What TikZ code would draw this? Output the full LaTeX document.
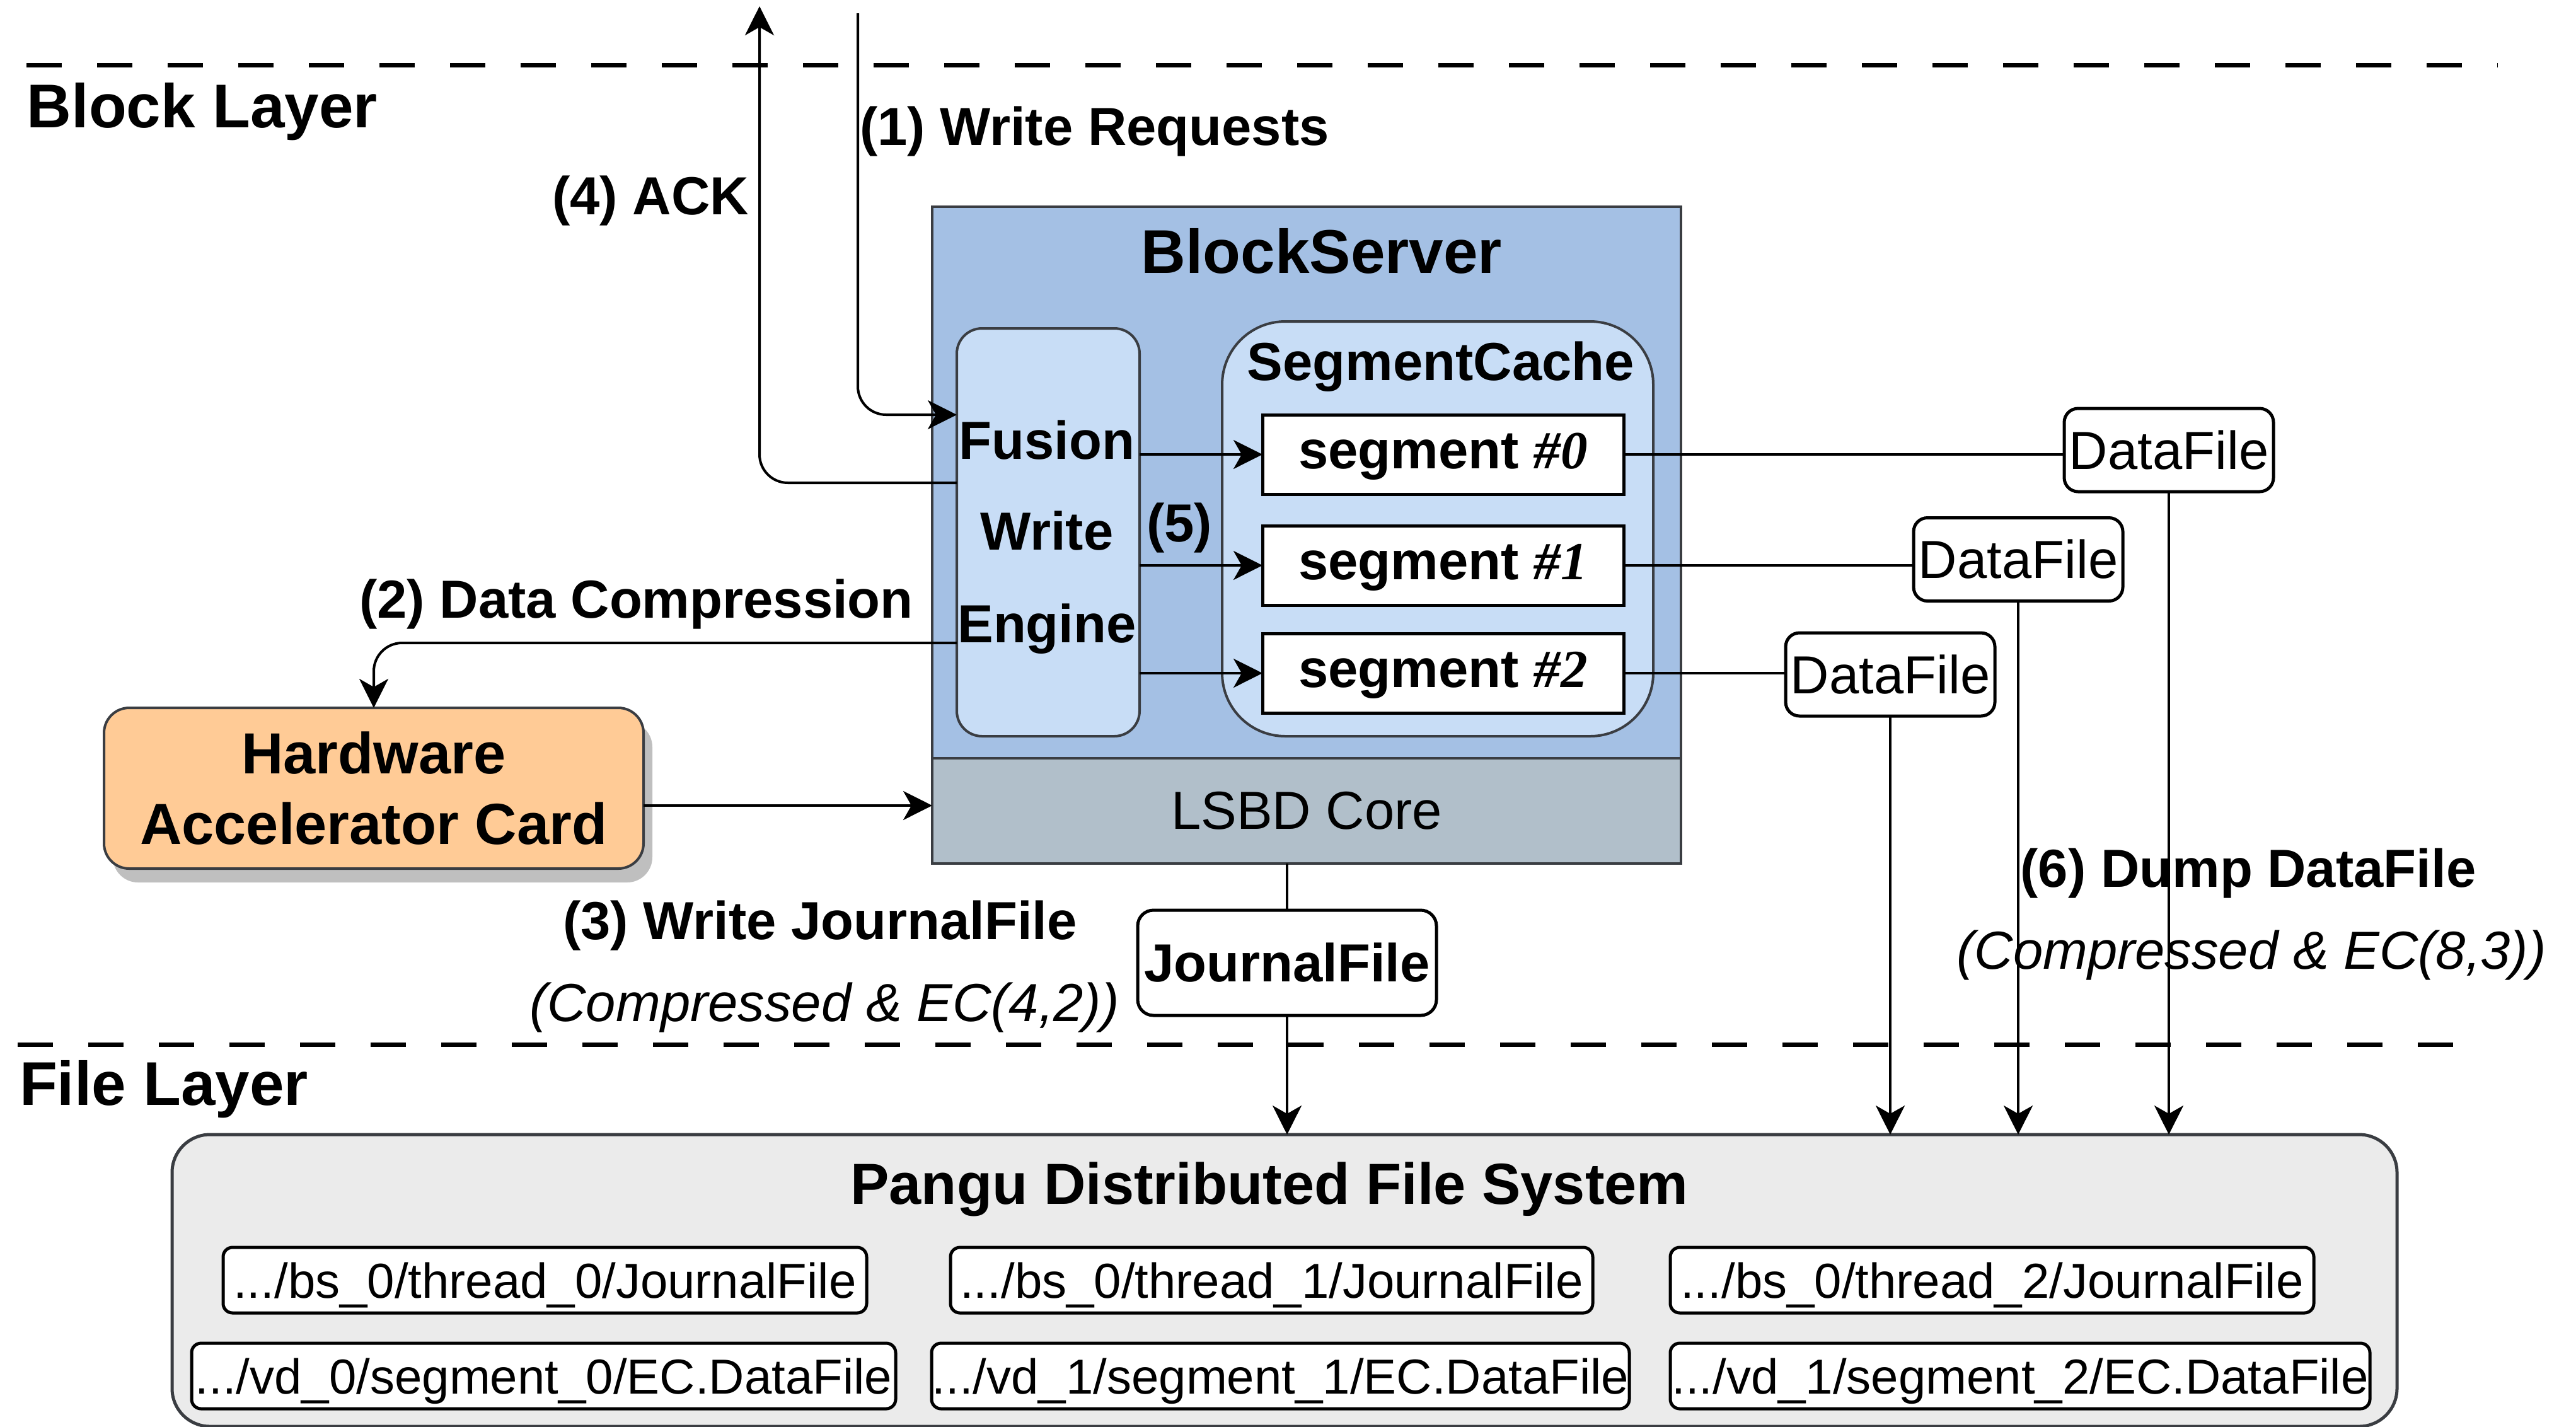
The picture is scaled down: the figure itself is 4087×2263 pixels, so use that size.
\documentclass[tikz,border=0pt]{standalone}
\usepackage{fontspec}
\setmainfont{Liberation Sans}
\newfontfamily\tnr{Liberation Serif}
\usetikzlibrary{arrows.meta,shadows}
\definecolor{bsblue}{HTML}{A4C0E4}
\definecolor{fweblue}{HTML}{C8DDF6}
\definecolor{lsbdgray}{HTML}{B1BFCA}
\definecolor{hacorange}{HTML}{FFCB96}
\definecolor{pangugray}{HTML}{EBEBEB}
\definecolor{edgegray}{HTML}{3A3D42}
\newcommand{\fsA}{\fontsize{24.19pt}{29pt}\selectfont}
\newcommand{\fsB}{\fontsize{26.18pt}{31.87pt}\selectfont}
\newcommand{\fsC}{\fontsize{27.9pt}{33pt}\selectfont}
\newcommand{\fsD}{\fontsize{22.19pt}{26pt}\selectfont}
\begin{document}
\begin{tikzpicture}[x=0.1mm,y=-0.1mm,
  every node/.style={inner sep=0pt,outer sep=0pt},
  edgebox/.style={draw=edgegray,line width=0.4mm},
  conn/.style={draw=black,line width=0.4mm},
  arr/.style={conn,-{Stealth[length=4.6mm,width=4.6mm,inset=1.3mm]}},
  cornered/.style={rounded corners=4.5mm},
  lbl/.style={font=\fsA\bfseries},
  lblit/.style={font=\fsA\itshape},
  layerlbl/.style={font=\fsC\bfseries},
  sepline/.style={line width=0.7mm,dash pattern=on 5.6mm off 5.6mm},
  segbox/.style={draw=black,line width=0.5mm,fill=white,minimum width=57.3mm,minimum height=12.6mm,font=\fsA\bfseries,text height=12.58pt,text depth=0pt},
  dfbox/.style={draw=black,line width=0.5mm,fill=white,rounded corners=2.2mm,minimum width=33.2mm,minimum height=13.2mm,font=\fsA},
  pathbox/.style={draw=black,line width=0.5mm,fill=white,rounded corners=1.5mm,minimum height=10.4mm,font=\fsD,text height=16.18pt,text depth=0pt},
]
\useasboundingbox (0,0) rectangle (4087,2263);

% layer separators
\coordinate (sepAa) at (42,103);
\coordinate (sepAb) at (3962,103);
\coordinate (sepBa) at (28,1657);
\coordinate (sepBb) at (3945,1657);
\draw[sepline] (sepAa) -- (sepAb);
\draw[sepline] (sepBa) -- (sepBb);

% BlockServer
\node[edgebox,fill=bsblue,minimum width=118.8mm,minimum height=87.5mm] (bs) at (2073,765.5) {};
\node[edgebox,fill=lsbdgray,minimum width=118.8mm,minimum height=16.7mm,font=\fsA] (lsbd) at (2073,1286.5) {LSBD Core};
\node[font=\fsC\bfseries,anchor=base] (bstitle) at (2097,433) {BlockServer};

\node[edgebox,fill=fweblue,rounded corners=4mm,minimum width=29mm,minimum height=64.7mm] (fwe) at (1663,844.5) {};
\node[lbl,anchor=base] (fweA) at (1661,728) {Fusion};
\node[lbl,anchor=base] (fweB) at (1661,872) {Write};
\node[lbl,anchor=base] (fweC) at (1661,1019) {Engine};

\node[edgebox,fill=fweblue,rounded corners=10mm,minimum width=68.4mm,minimum height=65.8mm] (sc) at (2281,839) {};
\node[lbl,anchor=base] (sctitle) at (2286,603) {SegmentCache};

\node[segbox] (seg0) at (2289.5,721) {segment {\tnr\bfseries\itshape\#0}};
\node[segbox] (seg1) at (2289.5,897) {segment {\tnr\bfseries\itshape\#1}};
\node[segbox] (seg2) at (2289.5,1068) {segment {\tnr\bfseries\itshape\#2}};
\node[lbl] (five) at (1871,837) {(5)};

% DataFiles
\node[dfbox] (df0) at (3441,714) {DataFile};
\node[dfbox] (df1) at (3202,887.5) {DataFile};
\node[dfbox] (df2) at (2999,1070) {DataFile};

% Hardware accelerator
\node[draw=edgegray,line width=0.4mm,fill=hacorange,rounded corners=4mm,minimum width=85.6mm,minimum height=25.5mm,font=\fsB\bfseries,align=center,drop shadow={shadow xshift=1.4mm,shadow yshift=-2.2mm,fill=black!25,opacity=1}] (hac) at (593,1250.5) {Hardware\\Accelerator Card};

% JournalFile
\node[draw=black,line width=0.5mm,fill=white,rounded corners=2.5mm,minimum width=47.4mm,minimum height=16.7mm,font=\fsA\bfseries] (jf) at (2042,1527.5) {JournalFile};

% Pangu
\node[draw=edgegray,line width=0.5mm,fill=pangugray,rounded corners=6mm,minimum width=353mm,minimum height=46.3mm] (pangu) at (2038,2031.5) {};
\node[font=\fsB\bfseries,anchor=base] (pangutitle) at (2014,1910) {Pangu Distributed File System};
\node[pathbox,minimum width=102.1mm] (pA0) at (864.5,2031) {.../bs\_0/thread\_0/JournalFile};
\node[pathbox,minimum width=101.9mm] (pA1) at (2017.5,2031) {.../bs\_0/thread\_1/JournalFile};
\node[pathbox,minimum width=102.1mm] (pA2) at (3160.5,2031) {.../bs\_0/thread\_2/JournalFile};
\node[pathbox,minimum width=111.7mm] (pB0) at (862.5,2183) {.../vd\_0/segment\_0/EC.DataFile};
\node[pathbox,minimum width=110.7mm] (pB1) at (2031.5,2183) {.../vd\_1/segment\_1/EC.DataFile};
\node[pathbox,minimum width=111mm] (pB2) at (3205,2183) {.../vd\_1/segment\_2/EC.DataFile};

% labels
\node[layerlbl,anchor=base west] (blocklayer) at (43,202) {Block Layer};
\node[layerlbl,anchor=base west] (filelayer) at (31,1753) {File Layer};
\node[lbl,anchor=base west] (l1) at (1364,230) {(1) Write Requests};
\node[lbl,anchor=base east] (l4) at (1188,340) {(4) ACK};
\node[lbl,anchor=base east] (l2) at (1449,980) {(2) Data Compression};
\node[lbl,anchor=base] (l3) at (1301,1490) {(3) Write JournalFile};
\node[lblit,anchor=base] (l3b) at (1308,1620) {(Compressed \& EC(4,2))};
\node[lbl,anchor=base] (l6) at (3567,1407) {(6) Dump DataFile};
\node[lblit,anchor=base] (l6b) at (3572,1537) {(Compressed \& EC(8,3))};

% connectors
\coordinate (wrtop) at (1361,21);
\coordinate (acktop) at (1205,10);
\draw[arr,cornered] (wrtop) |- ([yshift=18.65mm]fwe.west);
\draw[arr,cornered] ([yshift=7.85mm]fwe.west) -| (acktop);
\draw[arr,cornered] ([yshift=-17.55mm]fwe.west) -| (hac.north);
\draw[arr] ([yshift=-2.75mm]hac.east) -- ([yshift=-2.75mm]hac.east -| lsbd.west);
\draw[arr] (fwe.east |- seg0.west) -- (seg0.west);
\draw[arr] (fwe.east |- seg1.west) -- (seg1.west);
\draw[arr] (fwe.east |- seg2.west) -- (seg2.west);
\draw[conn] (seg0.east) -- (seg0.east -| df0.west);
\draw[conn] (seg1.east) -- (seg1.east -| df1.west);
\draw[conn] (seg2.east) -- (seg2.east -| df2.west);
\draw[arr] (df0.south) -- (df0.south |- pangu.north);
\draw[arr] (df1.south) -- (df1.south |- pangu.north);
\draw[arr] (df2.south) -- (df2.south |- pangu.north);
\draw[conn] (jf.north |- lsbd.south) -- (jf.north);
\draw[arr] (jf.south) -- (jf.south |- pangu.north);
\end{tikzpicture}
\end{document}
